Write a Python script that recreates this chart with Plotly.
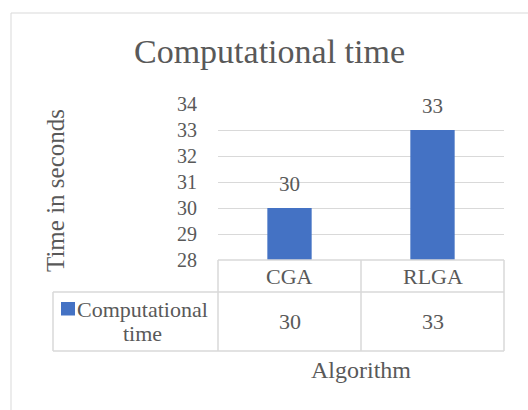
import plotly.graph_objects as go

# Data
algorithms = ["CGA", "RLGA"]
times = [30, 33]
series_name = "Computational time"
y_ticks = [28, 29, 30, 31, 32, 33, 34]

BLUE = "#4472C4"
GREY = "#595959"
LINE = "#D9D9D9"
FONT = "Liberation Serif"

W, H = 528, 410
PX0, PX1 = 218, 504   # plot area horizontal extent (px)
PY0, PY1 = 104, 260   # plot area vertical extent (px)


def px(x):
    return (x - PX0) / (PX1 - PX0)


def py(y):
    return (PY1 - y) / (PY1 - PY0)


fig = go.Figure()
fig.add_trace(go.Bar(
    x=algorithms, y=times, name=series_name,
    marker=dict(color=BLUE, line=dict(width=0)),
    width=0.31, showlegend=False,
))

annotations = []
# value labels above the bars
for a, t in zip(algorithms, times):
    annotations.append(dict(x=a, y=t, xref="x", yref="y", text=str(t),
                            showarrow=False, xanchor="center", yanchor="bottom",
                            yshift=10,
                            font=dict(family=FONT, size=21, color=GREY)))
# data table: category row and value row
for a, t in zip(algorithms, times):
    annotations.append(dict(x=a, y=py(276), xref="x", yref="paper", text=a,
                            showarrow=False, xanchor="center", yanchor="middle",
                            font=dict(family=FONT, size=22, color=GREY)))
    annotations.append(dict(x=a, y=py(321), xref="x", yref="paper", text=str(t),
                            showarrow=False, xanchor="center", yanchor="middle",
                            font=dict(family=FONT, size=22, color=GREY)))
# legend key text, wrapped over two lines
name_lines = series_name.split(" ")
for i, (word, yc) in enumerate(zip(name_lines, [309, 333])):
    annotations.append(dict(x=px(142), y=py(yc), xref="paper", yref="paper",
                            text=word, showarrow=False,
                            xanchor="center", yanchor="middle",
                            font=dict(family=FONT, size=22, color=GREY)))
# axis titles
annotations.append(dict(x=px(55), y=py(191), xref="paper", yref="paper",
                        text="Time in seconds", textangle=-90, showarrow=False,
                        xanchor="center", yanchor="middle",
                        font=dict(family=FONT, size=25, color=GREY)))
annotations.append(dict(x=px(361), y=py(370), xref="paper", yref="paper",
                        text="Algorithm", showarrow=False,
                        xanchor="center", yanchor="middle",
                        font=dict(family=FONT, size=24, color=GREY)))

shapes = []
tbl = dict(color=LINE, width=1.5)


def hline(y, x0, x1):
    shapes.append(dict(type="line", xref="paper", yref="paper",
                       x0=px(x0), x1=px(x1), y0=py(y), y1=py(y), line=tbl))


def vline_paper(x, y0, y1):
    shapes.append(dict(type="line", xref="paper", yref="paper",
                       x0=px(x), x1=px(x), y0=py(y0), y1=py(y1), line=tbl))


hline(260, 218, 504)
hline(292, 53, 504)
hline(351, 53, 504)
vline_paper(218, 260, 351)
vline_paper(504, 260, 351)
vline_paper(53, 292, 351)
# divider between the two category columns
shapes.append(dict(type="line", xref="x", yref="paper", x0=0.5, x1=0.5,
                   y0=py(260), y1=py(351), line=tbl))
# legend key square
shapes.append(dict(type="rect", xref="paper", yref="paper",
                   x0=px(61), x1=px(75), y0=py(302), y1=py(315.5),
                   fillcolor=BLUE, line=dict(width=0)))
# chart frame
shapes.append(dict(type="line", xref="paper", yref="paper",
                   x0=px(11), x1=px(540), y0=py(13), y1=py(13),
                   line=dict(color=LINE, width=1)))
shapes.append(dict(type="line", xref="paper", yref="paper",
                   x0=px(11), x1=px(11), y0=py(13), y1=py(420),
                   line=dict(color=LINE, width=1)))

fig.update_layout(
    width=W, height=H,
    margin=dict(l=PX0, r=W - PX1, t=PY0, b=H - PY1, pad=0),
    paper_bgcolor="white", plot_bgcolor="white",
    font=dict(family=FONT, color=GREY),
    title=dict(text="Computational time", x=269.5 / W, xanchor="center",
               y=1 - 51 / H, yanchor="middle",
               font=dict(family=FONT, size=34, color=GREY)),
    xaxis=dict(type="category", range=[-0.5, 1.5], showticklabels=False,
               showgrid=False, zeroline=False, showline=False, fixedrange=True),
    yaxis=dict(range=[28, 34], tickvals=y_ticks, showgrid=True,
               gridcolor=LINE, gridwidth=1, zeroline=False, showline=False,
               ticks="", ticklabelstandoff=20,
               tickfont=dict(family=FONT, size=20, color=GREY)),
    bargap=0.69,
    annotations=annotations,
    shapes=shapes,
)

fig.write_html("out.html")
